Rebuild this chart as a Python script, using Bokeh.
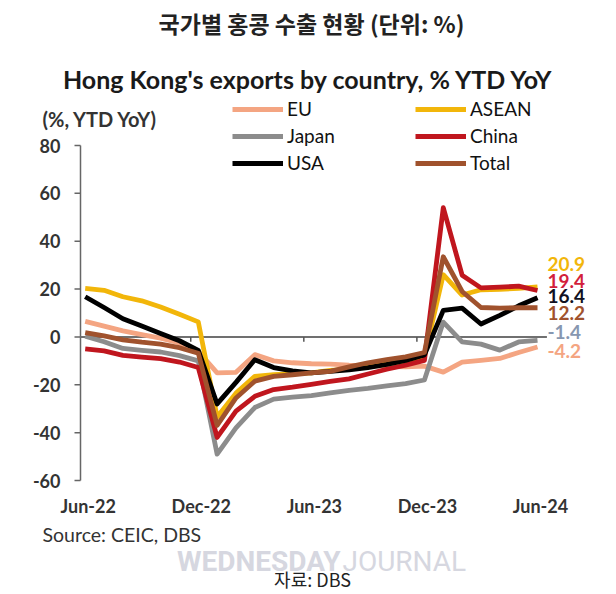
from bokeh.plotting import figure
from bokeh.models import Range1d, Label, Legend, LegendItem, ColumnDataSource
from bokeh.core.properties import value
from bokeh.embed import file_html
from bokeh.resources import INLINE

# ---------------- data ----------------
months = ["Jun-22", "Jul-22", "Aug-22", "Sep-22", "Oct-22", "Nov-22", "Dec-22",
          "Jan-23", "Feb-23", "Mar-23", "Apr-23", "May-23", "Jun-23", "Jul-23",
          "Aug-23", "Sep-23", "Oct-23", "Nov-23", "Dec-23",
          "Jan-24", "Feb-24", "Mar-24", "Apr-24", "May-24", "Jun-24"]
eu = [6.5, 4.5, 2.5, 1.0, -0.5, -2.5, -6.0,
      -15.0, -14.8, -7.4, -10.0, -10.8, -11.2, -11.4,
      -11.8, -12.0, -12.3, -12.5, -12.2,
      -14.7, -10.5, -9.8, -9.0, -6.5, -4.2]
asean = [20.3, 19.5, 16.8, 15.1, 12.5, 9.5, 6.3,
         -33.5, -23.5, -16.5, -15.8, -15.3, -15.0, -14.0,
         -13.5, -12.5, -11.2, -10.0, -8.2,
         26.0, 17.5, 19.7, 19.9, 20.3, 20.9]
japan = [0.3, -2.0, -4.8, -5.6, -6.3, -7.8, -10.0,
         -49.0, -38.0, -29.5, -26.0, -25.2, -24.5, -23.4,
         -22.3, -21.5, -20.5, -19.5, -18.0,
         6.2, -2.1, -3.0, -5.5, -2.1, -1.4]
china = [-5.0, -5.8, -7.7, -8.4, -9.1, -10.5, -12.8,
         -42.0, -31.0, -24.8, -22.0, -21.0, -19.8, -18.6,
         -17.5, -15.5, -13.5, -11.8, -9.8,
         54.0, 25.8, 20.5, 20.8, 21.2, 19.4]
usa = [16.8, 12.3, 7.6, 4.6, 1.4, -1.6, -5.6,
       -28.0, -19.0, -9.5, -12.8, -14.2, -15.0, -14.4,
       -13.8, -12.8, -11.5, -9.8, -7.5,
       11.1, 12.0, 5.4, 9.0, 13.0, 16.4]
total = [1.8, 0.4, -1.2, -2.2, -3.0, -4.5, -6.8,
         -37.0, -25.5, -18.5, -16.5, -15.8, -15.0, -14.4,
         -12.5, -10.8, -9.5, -8.3, -6.5,
         33.5, 19.0, 12.3, 12.0, 12.2, 12.2]
series_names = ["EU", "ASEAN", "Japan", "China", "USA", "Total"]
tick_labels = ["Jun-22", "Dec-22", "Jun-23", "Dec-23", "Jun-24"]
y_ticks = [-60, -40, -20, 0, 20, 40, 60, 80]

# ---------------- styles / layout ----------------
colors = {"EU": "#F4A582", "ASEAN": "#F2B60A", "Japan": "#8C8C8C",
          "China": "#C0161E", "USA": "#000000", "Total": "#A0522D"}
end_label_colors = {"ASEAN": "#F2B60A", "China": "#D31F3C", "USA": "#111122",
                    "Total": "#A0522D", "Japan": "#8797B0", "EU": "#F4A582"}
end_label_dy = {"ASEAN": -23, "China": -10, "USA": -2, "Total": 5, "Japan": -8, "EU": 4}
FONT = "Lato"
W, H = 616, 594
# plot area in pixels: y axis line at x=80, 80 -> y=145, -60 -> y=480, Jun-24 at x=537
AX_PX, TOP_PX, BOT_PX, LAST_PX = 80, 145, 480, 537
x_axis_start = -0.25

x = list(range(len(months)))
last = len(months) - 1
data = {"EU": eu, "ASEAN": asean, "Japan": japan, "China": china, "USA": usa, "Total": total}

ymin, ymax = min(y_ticks), max(y_ticks)
ppy = (BOT_PX - TOP_PX) / (ymax - ymin)
ppx = (LAST_PX - AX_PX) / (last - x_axis_start)
x_range = Range1d(x_axis_start - AX_PX / ppx, x_axis_start + (W - AX_PX) / ppx)
y_range = Range1d(ymin - (H - BOT_PX) / ppy, ymax + TOP_PX / ppy)

p = figure(width=W, height=H, x_range=x_range, y_range=y_range,
           x_axis_type=None, y_axis_type=None,
           output_backend="svg", toolbar_location=None,
           min_border=0)
p.outline_line_color = None
p.grid.visible = False
p.background_fill_color = "white"
p.border_fill_color = "white"

# y axis (line, ticks, labels)
p.segment(x0=[x_axis_start], y0=[ymin], x1=[x_axis_start], y1=[ymax],
          line_color="#666666", line_width=1.5)
tick_len = 6 / ppx
p.segment(x0=[x_axis_start - tick_len] * len(y_ticks), y0=y_ticks,
          x1=[x_axis_start] * len(y_ticks), y1=y_ticks,
          line_color="#666666", line_width=1.5)
p.text(x=[x_axis_start] * len(y_ticks), y=y_ticks, text=[str(t) for t in y_ticks],
       x_offset=-20, text_align="right", text_baseline="middle",
       text_font=value(FONT), text_font_size="18px", text_font_style="bold",
       text_color="#333333")

# zero line and its small tick marks
p.line(x=[x_axis_start, last + 0.5], y=[0, 0], line_color="#707070", line_width=2)
tick_pos = [months.index(t) for t in tick_labels]
tx = [t - 0.4 for t in tick_pos[1:-1]]
p.segment(x0=tx, y0=[0] * len(tx), x1=tx, y1=[-2] * len(tx), line_color="#555555", line_width=1.5)

# x tick labels
p.text(x=tick_pos, y=[ymin] * len(tick_pos), text=tick_labels, y_offset=25, x_offset=3,
       text_align="center", text_baseline="middle",
       text_font=value(FONT), text_font_size="18px", text_font_style="bold",
       text_color="#333333")

# series
renderers = {}
for name in series_names:
    renderers[name] = p.line(x=x, y=data[name], line_color=colors[name], line_width=4.8,
                             line_join="round")

# end labels
src = ColumnDataSource(dict(
    x=[last] * len(series_names),
    y=[data[n][-1] for n in series_names],
    text=[f"{data[n][-1]:.1f}" for n in series_names],
    color=[end_label_colors[n] for n in series_names],
    dy=[end_label_dy[n] for n in series_names],
))
p.text(x="x", y="y", text="text", source=src, text_color="color", x_offset=10, y_offset="dy",
       text_font=value(FONT), text_font_style="bold", text_font_size="19px",
       text_baseline="middle", text_align="left")

# legends (two columns)
def make_legend(names, loc):
    return Legend(items=[LegendItem(label=n, renderers=[renderers[n]]) for n in names],
                  location=loc, orientation="vertical",
                  glyph_width=51, glyph_height=20, label_height=20, label_standoff=4,
                  spacing=4, padding=0, margin=0,
                  border_line_alpha=0, background_fill_alpha=0,
                  label_text_font=FONT, label_text_font_size="19px",
                  label_text_color="#111111")

p.add_layout(make_legend(["EU", "Japan", "USA"], (232, H - 174)))
p.add_layout(make_legend(["ASEAN", "China", "Total"], (415, H - 174)))

# texts (screen px; y measured up from the bottom)
def add_text(txt, px, py, size, font, align="left", style="normal", color="#222222"):
    p.add_layout(Label(x=px, y=H - py, x_units="screen", y_units="screen", text=txt,
                       text_align=align, text_baseline="middle",
                       text_font=font, text_font_size=size, text_font_style=style,
                       text_color=color))

add_text("국가별 홍콩 수출 현황 (단위: %)", 311, 22, "23px", "Noto Sans CJK KR", "center", "bold", "#222222")
add_text("Hong Kong's exports by country, % YTD YoY", 308, 78, "25px", FONT, "center", "bold", "#1a1a1a")
add_text("(%, YTD YoY)", 42, 118, "20px", FONT, "left", "bold", "#333333")
add_text("Source: CEIC, DBS", 42, 534, "19.5px", FONT, "left", "normal", "#333333")
add_text("WEDNESDAY", 340, 561, "28px", "Roboto", "right", "bold", "#d6d7e0")
add_text("JOURNAL", 342, 561, "28px", "Roboto", "left", "normal", "#d6d7e0")
add_text("자료: DBS", 312, 578, "18px", "Noto Sans CJK KR", "center", "normal", "#222222")

open("out.html", "w").write(file_html(p, INLINE))
